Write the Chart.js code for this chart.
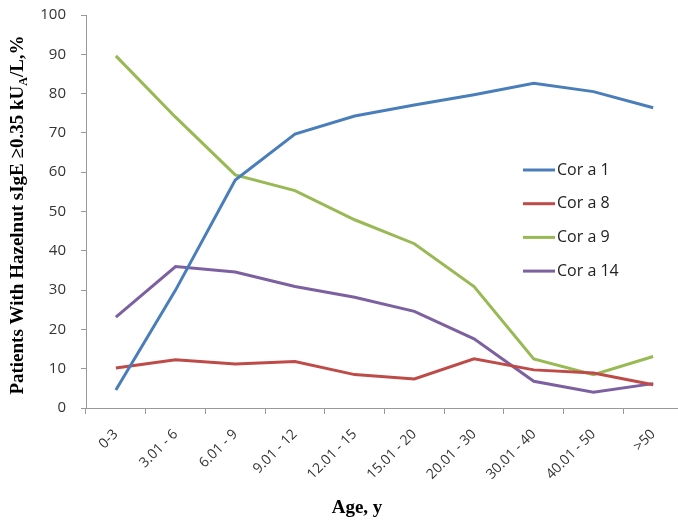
<!DOCTYPE html>
<html>
<head>
<meta charset="utf-8">
<script src="https://cdn.jsdelivr.net/npm/chart.js@4.4.1/dist/chart.umd.min.js"></script>
<style>
  html, body { margin: 0; padding: 0; background: #fff; overflow: hidden; }
  #wrap { width: 690px; height: 521px; }
</style>
</head>
<body>
<div id="wrap"><canvas id="myChart" width="690" height="521"></canvas></div>
<script>
var ageGroups = ["0-3", "3.01 - 6", "6.01 - 9", "9.01 - 12", "12.01 - 15", "15.01 - 20", "20.01 - 30", "30.01 - 40", "40.01 - 50", ">50"];
var corA1 = [4.6, 30.0, 58.0, 69.7, 74.3, 77.1, 79.7, 82.6, 80.5, 76.4];
var corA8 = [10.2, 12.3, 11.2, 11.8, 8.5, 7.4, 12.5, 9.7, 8.9, 5.9];
var corA9 = [89.6, 74.0, 59.3, 55.3, 47.9, 41.8, 30.9, 12.5, 8.5, 13.1];
var corA14 = [23.1, 36.0, 34.6, 30.9, 28.2, 24.6, 17.6, 6.8, 4.0, 6.2];

// y title with subscript A, legend drawn inside plot, x title
var extras = {
  id: 'extras',
  afterDraw: function(chart) {
    var ctx = chart.ctx;
    ctx.save();
    // y axis title
    var big = 'bold 19px "Liberation Serif"';
    var small = 'bold 12px "Liberation Serif"';
    var parts = [["Patients With Hazelnut sIgE \u22650.35 kU", big, 0], ["A", small, 4], ["/L,%", big, 0]];
    var total = 0;
    parts.forEach(function(p) { ctx.font = p[1]; total += ctx.measureText(p[0]).width; });
    ctx.translate(23, 215);
    ctx.rotate(-Math.PI / 2);
    ctx.fillStyle = '#000';
    ctx.textBaseline = 'alphabetic';
    var x = -total / 2;
    parts.forEach(function(p) {
      ctx.font = p[1];
      ctx.fillText(p[0], x, p[2]);
      x += ctx.measureText(p[0]).width;
    });
    ctx.restore();

    // x axis title
    ctx.save();
    ctx.font = big;
    ctx.fillStyle = '#000';
    ctx.textAlign = 'center';
    ctx.textBaseline = 'middle';
    ctx.fillText('Age, y', 357, 508);
    ctx.restore();

    // legend
    ctx.save();
    ctx.font = '16px "Open Sans"';
    ctx.textBaseline = 'middle';
    chart.data.datasets.forEach(function(ds, i) {
      var ly = 170 + i * 33.7;
      ctx.strokeStyle = ds.borderColor;
      ctx.lineWidth = 3;
      ctx.beginPath();
      ctx.moveTo(523, ly);
      ctx.lineTo(555, ly);
      ctx.stroke();
      ctx.fillStyle = '#222';
      ctx.fillText(ds.label, 557, ly);
    });
    ctx.restore();
  }
};

var ctx = document.getElementById("myChart").getContext("2d");
var myChart = new Chart(ctx, {
  type: 'line',
  data: {
    labels: ageGroups,
    datasets: [
      { label: 'Cor a 1', data: corA1, borderColor: '#4A7EBB', backgroundColor: '#4A7EBB' },
      { label: 'Cor a 8', data: corA8, borderColor: '#BE4B48', backgroundColor: '#BE4B48' },
      { label: 'Cor a 9', data: corA9, borderColor: '#98B954', backgroundColor: '#98B954' },
      { label: 'Cor a 14', data: corA14, borderColor: '#7D60A0', backgroundColor: '#7D60A0' }
    ]
  },
  options: {
    responsive: false,
    animation: false,
    layout: { padding: { top: 15, right: 7, left: 0, bottom: 0 } },
    elements: {
      line: { borderWidth: 3, tension: 0 },
      point: { radius: 0 }
    },
    plugins: {
      legend: { display: false },
      tooltip: { enabled: false }
    },
    scales: {
      x: {
        offset: true,
        grid: { offset: true, drawOnChartArea: false, color: '#999', tickLength: 6 },
        border: { color: '#999', width: 1 },
        ticks: { minRotation: 45, maxRotation: 45, padding: 12, color: '#333', font: { family: 'Open Sans', size: 14 } },
        afterFit: function(scale) { scale.height = 113; }
      },
      y: {
        min: 0,
        max: 100,
        grid: { drawOnChartArea: false, color: '#999', tickLength: 5 },
        border: { color: '#999', width: 1 },
        ticks: { stepSize: 10, color: '#333', padding: 15, font: { family: 'Open Sans', size: 15 } },
        afterFit: function(scale) { scale.width = 86; scale.paddingTop = 0; }
      }
    }
  },
  plugins: [extras]
});
</script>
</body>
</html>
